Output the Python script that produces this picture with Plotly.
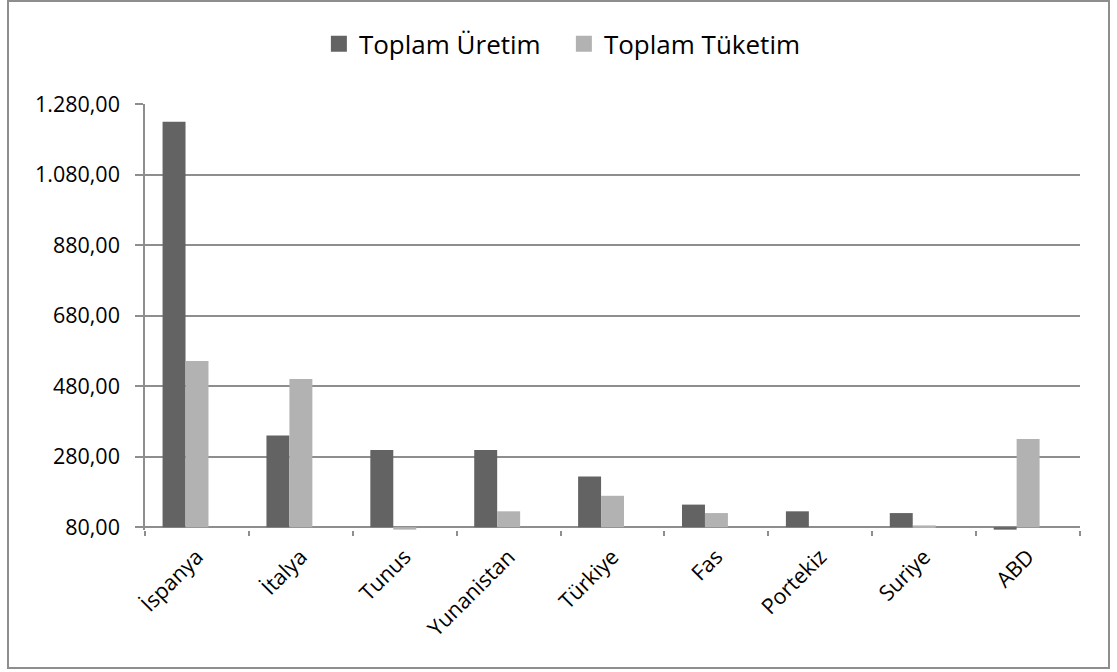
import plotly.graph_objects as go

categories = ["İspanya", "İtalya", "Tunus", "Yunanistan", "Türkiye", "Fas", "Portekiz", "Suriye", "ABD"]
uretim = [1230, 340, 299, 299, 224, 144, 125, 120, 73]
tuketim = [551, 500, 73, 125, 169, 120, 80, 85, 330]
series_names = ["Toplam Üretim", "Toplam Tüketim"]
y_ticks = [80, 280, 480, 680, 880, 1080, 1280]
AXIS_BASE = 80

DARK = "#636363"
LIGHT = "#b2b2b2"
GRID = "#8e8e8e"
FONT = "Open Sans"

fig = go.Figure()
bar_w = 0.221
offsets = [-0.331, -0.331 + bar_w]
for name, vals, col, off in zip(series_names, [uretim, tuketim], [DARK, LIGHT], offsets):
    fig.add_trace(go.Bar(
        x=categories,
        y=[v - AXIS_BASE for v in vals],
        base=AXIS_BASE,
        name=name,
        marker=dict(color=col, line=dict(width=0)),
        width=bar_w,
        offset=off,
        customdata=vals,
        showlegend=False,
        hovertemplate="%{x}: %{customdata}<extra>" + name + "</extra>",
    ))
    # legend entry with a larger square swatch
    fig.add_trace(go.Scatter(
        x=[None], y=[None], mode="markers", name=name,
        marker=dict(symbol="square", size=16, color=col),
        hoverinfo="skip",
    ))

fig.update_layout(
    width=1117, height=672,
    margin=dict(l=145, r=37, t=104, b=142),
    paper_bgcolor="white", plot_bgcolor="white",
    separators=",.",
    font=dict(family=FONT, size=21, color="black"),
    barmode="overlay",
    showlegend=True,
    legend=dict(orientation="h", x=0.448, xanchor="center", y=1.141, yanchor="middle",
                font=dict(size=26), traceorder="normal", itemwidth=30,
                entrywidth=200, entrywidthmode="pixels"),
)
fig.update_yaxes(
    range=[72, 1280], tickvals=y_ticks, tickformat=",.2f",
    showgrid=True, gridcolor=GRID, gridwidth=1.5,
    showline=True, linecolor=GRID, linewidth=1.5,
    ticks="outside", ticklen=8, tickcolor=GRID, tickwidth=1.5,
    zeroline=False, tickfont=dict(size=21.5), ticklabelstandoff=11,
)
fig.update_xaxes(
    type="category", tickangle=-45, tickson="boundaries",
    ticks="outside", ticklen=5, tickcolor=GRID, tickwidth=1.5,
    showline=False, showgrid=False, tickfont=dict(size=21.5), ticklabelstandoff=9,
)
# outer chart frame
fig.add_shape(type="rect", xref="paper", yref="paper",
              x0=(8 - 145) / 935, x1=(1109 - 145) / 935,
              y0=(530 - 668) / 426, y1=(530 - 1) / 426,
              line=dict(color=GRID, width=2), layer="below")

fig.write_html("out.html")
